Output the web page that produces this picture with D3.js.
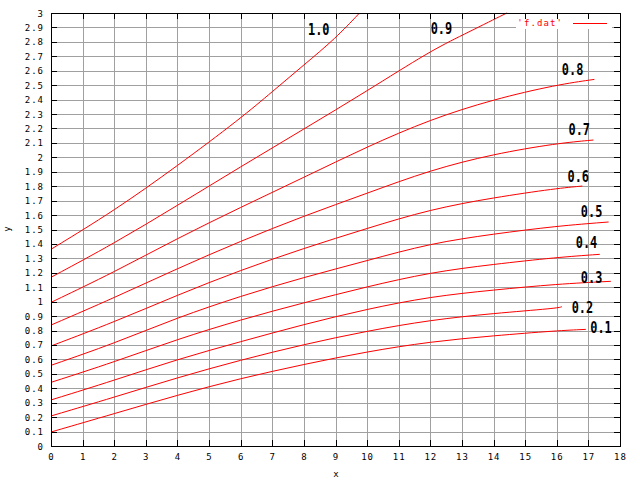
<!DOCTYPE html>
<html>
<head>
<meta charset="utf-8">
<script src="https://cdn.jsdelivr.net/npm/d3@7/dist/d3.min.js"></script>
<style>
body { margin: 0; background: #fff; }
text { font-family: "DejaVu Sans Mono", monospace; }
</style>
</head>
<body>
<div id="chart"></div>
<script>
var width = 640, height = 480;

// x positions read at every 2 units, plus each curve's last point
var xs = [0, 2, 4, 6, 8, 10, 12, 14, 16];

var levels = ["0.1", "0.2", "0.3", "0.4", "0.5", "0.6", "0.7", "0.8", "0.9", "1.0"];

var y01 = [0.097, 0.224, 0.353, 0.469, 0.566, 0.654, 0.723, 0.764, 0.799];
var y02 = [0.208, 0.338, 0.474, 0.596, 0.704, 0.797, 0.873, 0.919, 0.954];
var y03 = [0.319, 0.455, 0.601, 0.723, 0.843, 0.949, 1.035, 1.081, 1.122];
var y04 = [0.441, 0.582, 0.740, 0.875, 0.993, 1.104, 1.203, 1.259, 1.307];
var y05 = [0.559, 0.711, 0.890, 1.039, 1.169, 1.284, 1.404, 1.469, 1.524];
var y06 = [0.693, 0.859, 1.046, 1.219, 1.370, 1.508, 1.640, 1.721, 1.785];
var y07 = [0.838, 1.027, 1.230, 1.420, 1.594, 1.751, 1.912, 2.023, 2.097];
var y08 = [0.995, 1.205, 1.439, 1.654, 1.861, 2.074, 2.263, 2.402, 2.503];
var y09 = [1.169, 1.404, 1.667, 1.935, 2.196, 2.460, 2.737];
var y10 = [1.363, 1.630, 1.941, 2.270, 2.640];

// last points (x, y) of each curve
var endX = [16.92, 16.16, 17.71, 17.36, 17.64, 16.81, 17.16, 17.19, 14.42, 9.76];
var endY = [0.808, 0.965, 1.141, 1.328, 1.552, 1.801, 2.120, 2.540, 3.0, 3.0];
// extra odd points for the two steep curves
var extra09 = [[13, 2.845]];
var extra10 = [[7, 2.455], [9, 2.824]];

// curve labels, left edge / middle in data units
var labelX = [17.06, 16.47, 16.76, 16.60, 16.76, 16.34, 16.37, 16.16, 12.01, 8.13];
var labelY = [0.827, 0.963, 1.173, 1.412, 1.630, 1.870, 2.195, 2.611, 2.897, 2.890];

var xTicks = d3.range(0, 19, 1);
var yTicks = d3.range(0, 31, 1).map(function(d) { return d / 10; });

var mLeft = 51, mRight = 620, mTop = 13, mBottom = 446;

var svg = d3.select("#chart").append("svg")
    .attr("width", width)
    .attr("height", height);
svg.append("rect").attr("width", width).attr("height", height).attr("fill", "#fff");

var x = d3.scaleLinear().domain([0, 18]).range([mLeft, mRight]);
var y = d3.scaleLinear().domain([0, 3]).range([mBottom, mTop]);

function px(v) { return Math.round(v) + 0.5; }

// grid
var grid = svg.append("g").attr("shape-rendering", "crispEdges")
    .attr("stroke", "#a0a0a0").attr("stroke-width", 1);
grid.selectAll("line.gx").data(xTicks.slice(1, -1)).enter().append("line")
    .attr("x1", d => px(x(d))).attr("x2", d => px(x(d)))
    .attr("y1", mTop).attr("y2", mBottom);
grid.selectAll("line.gy").data(yTicks.slice(1, -1)).enter().append("line")
    .attr("y1", d => px(y(d))).attr("y2", d => px(y(d)))
    .attr("x1", mLeft).attr("x2", mRight);

// curves
var series = [y01, y02, y03, y04, y05, y06, y07, y08, y09, y10];
var extras = [[], [], [], [], [], [], [], [], extra09, extra10];
var curves = series.map(function(vals, i) {
    var pts = vals.map(function(v, j) { return [xs[j], v]; });
    pts = pts.concat(extras[i]);
    pts.push([endX[i], endY[i]]);
    pts.sort(function(a, b) { return a[0] - b[0]; });
    return pts;
});

// smoothing spline, the readings are a pixel or two off
var line = d3.line()
    .x(d => x(d[0])).y(d => y(d[1]))
    .curve(d3.curveBasis);

svg.append("g").selectAll("path").data(curves).enter().append("path")
    .attr("d", line)
    .attr("fill", "none")
    .attr("stroke", "#ff0000")
    .attr("stroke-width", 1);

// legend box
var leg = svg.append("g");
leg.append("rect").attr("x", 516).attr("y", mTop + 1).attr("width", 96).attr("height", 15)
    .attr("fill", "#fff");
leg.append("text").attr("x", 563).attr("y", 26)
    .attr("text-anchor", "end").attr("fill", "#ff0000")
    .attr("font-size", 9).attr("letter-spacing", 1.1)
    .text("'f.dat'");
leg.append("line").attr("x1", 573).attr("x2", 607).attr("y1", 23.5).attr("y2", 23.5)
    .attr("stroke", "#ff0000").attr("shape-rendering", "crispEdges");

// curve labels
svg.append("g").selectAll("text").data(levels).enter().append("text")
    .attr("x", (d, i) => x(labelX[i]))
    .attr("y", (d, i) => y(labelY[i]) + 6)
    .attr("font-size", 16).attr("font-weight", "bold")
    .attr("textLength", 21.5).attr("lengthAdjust", "spacingAndGlyphs")
    .attr("fill", "#000")
    .text(d => d);

// border and ticks
var ax = svg.append("g").attr("shape-rendering", "crispEdges")
    .attr("stroke", "#000").attr("stroke-width", 1);
ax.append("rect").attr("x", mLeft + 0.5).attr("y", mTop + 0.5)
    .attr("width", mRight - mLeft).attr("height", mBottom - mTop)
    .attr("fill", "none");
var tl = 6;
ax.selectAll("line.tb").data(xTicks).enter().append("line")
    .attr("x1", d => px(x(d))).attr("x2", d => px(x(d)))
    .attr("y1", mBottom).attr("y2", mBottom - tl);
ax.selectAll("line.tt").data(xTicks).enter().append("line")
    .attr("x1", d => px(x(d))).attr("x2", d => px(x(d)))
    .attr("y1", mTop).attr("y2", mTop + tl);
ax.selectAll("line.tl").data(yTicks).enter().append("line")
    .attr("y1", d => px(y(d))).attr("y2", d => px(y(d)))
    .attr("x1", mLeft).attr("x2", mLeft + tl);
ax.selectAll("line.tr").data(yTicks).enter().append("line")
    .attr("y1", d => px(y(d))).attr("y2", d => px(y(d)))
    .attr("x1", mRight).attr("x2", mRight - tl);

// tick labels
var fmt = d3.format("~g");
svg.append("g").selectAll("text").data(yTicks).enter().append("text")
    .attr("x", 44).attr("y", d => y(d) + 3.5)
    .attr("text-anchor", "end")
    .attr("font-size", 9).attr("letter-spacing", 1)
    .text(d => fmt(d));
svg.append("g").selectAll("text").data(xTicks).enter().append("text")
    .attr("x", d => x(d) + 0.5).attr("y", 460)
    .attr("text-anchor", "middle")
    .attr("font-size", 9).attr("letter-spacing", 1)
    .text(d => fmt(d));

svg.append("text").attr("x", 336).attr("y", 477)
    .attr("text-anchor", "middle").attr("font-size", 9).text("x");
svg.append("text")
    .attr("transform", "translate(10,229) rotate(-90)")
    .attr("text-anchor", "middle").attr("font-size", 9).text("y");
</script>
</body>
</html>
